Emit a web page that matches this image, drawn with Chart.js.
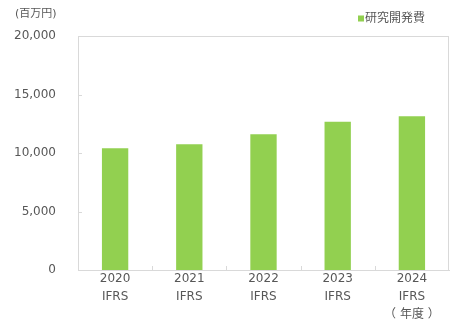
<!DOCTYPE html>
<html>
<head>
<meta charset="utf-8">
<script src="https://cdn.jsdelivr.net/npm/chart.js@4"></script>
<style>
  html, body { margin: 0; padding: 0; background: #ffffff; }
  #wrap { width: 455px; height: 330px; position: relative; }
</style>
</head>
<body>
<div id="wrap"><canvas id="c" width="455" height="330"></canvas></div>
<script>
// ---- data ----
const years = ["2020", "2021", "2022", "2023", "2024"];
const standards = ["IFRS", "IFRS", "IFRS", "IFRS", "IFRS"];
const rdValues = [10400, 10750, 11600, 12680, 13140];
const seriesName = "研究開発費";
const unitLabel = "(百万円)";
const yearSuffix = "（ 年度 ）";
const yTicks = [0, 5000, 10000, 15000, 20000];

const categories = years.map((y, i) => {
  const lines = [y, standards[i]];
  if (i === years.length - 1) lines.push(yearSuffix);
  return lines;
});

const FONT = '"DejaVu Sans", "Noto Sans CJK JP", sans-serif';
const TEXT = '#575757';
const LINE = '#d9d9d9';
const GREEN = '#92d050';

const decorPlugin = {
  id: 'decor',
  afterDatasetsDraw(chart) {
    const ctx = chart.ctx;
    const a = chart.chartArea;
    const xs = chart.scales.x, ys = chart.scales.y;
    ctx.save();
    ctx.strokeStyle = LINE;
    ctx.lineWidth = 1;
    ctx.beginPath();
    // top & right border
    ctx.moveTo(a.left, a.top + 0.5); ctx.lineTo(a.right, a.top + 0.5);
    ctx.moveTo(a.right - 0.5, a.top); ctx.lineTo(a.right - 0.5, a.bottom);
    // inner y ticks
    yTicks.forEach(v => {
      const py = Math.round(ys.getPixelForValue(v)) + 0.5;
      ctx.moveTo(a.left, py); ctx.lineTo(a.left + 4, py);
    });
    // inner x ticks at category boundaries
    for (let i = 1; i < years.length; i++) {
      const px = Math.round((xs.getPixelForValue(i - 1) + xs.getPixelForValue(i)) / 2) + 0.5;
      ctx.moveTo(px, a.bottom); ctx.lineTo(px, a.bottom - 4);
    }
    ctx.stroke();

    // unit label
    ctx.fillStyle = TEXT;
    ctx.font = '11px ' + FONT;
    ctx.textBaseline = 'middle';
    ctx.textAlign = 'left';
    ctx.fillText(unitLabel, 15, 14);

    // legend
    const ds = chart.data.datasets[0];
    ctx.fillStyle = ds.backgroundColor;
    ctx.fillRect(358, 15.5, 6, 6);
    ctx.fillStyle = TEXT;
    ctx.font = '12px ' + FONT;
    ctx.fillText(ds.label, 365, 18.5);
    ctx.restore();
  }
};

new Chart(document.getElementById('c'), {
  type: 'bar',
  data: {
    labels: categories,
    datasets: [{
      label: seriesName,
      data: rdValues,
      backgroundColor: GREEN,
      borderWidth: 0,
      categoryPercentage: 1,
      barPercentage: 0.355
    }]
  },
  options: {
    responsive: false,
    animation: false,
    layout: { padding: { left: 0, right: 6, top: 36, bottom: 0 } },
    plugins: {
      legend: { display: false },
      tooltip: { enabled: false },
      title: { display: false }
    },
    scales: {
      x: {
        grid: { display: false, drawTicks: false },
        border: { display: true, color: LINE, width: 1 },
        ticks: {
          color: TEXT,
          font: { family: FONT, size: 12, lineHeight: 1.5 },
          padding: 0,
          maxRotation: 0,
          autoSkip: false
        },
        afterFit(scale) { scale.height = 60; }
      },
      y: {
        min: 0,
        max: 20000,
        grid: { display: false, drawTicks: false },
        border: { display: true, color: LINE, width: 1 },
        afterBuildTicks(scale) { scale.ticks = yTicks.map(v => ({ value: v })); },
        ticks: {
          color: TEXT,
          font: { family: FONT, size: 12 },
          padding: 22,
          callback: v => v.toLocaleString('en-US')
        },
        afterFit(scale) { scale.width = 78; }
      }
    }
  },
  plugins: [decorPlugin]
});
</script>
</body>
</html>
